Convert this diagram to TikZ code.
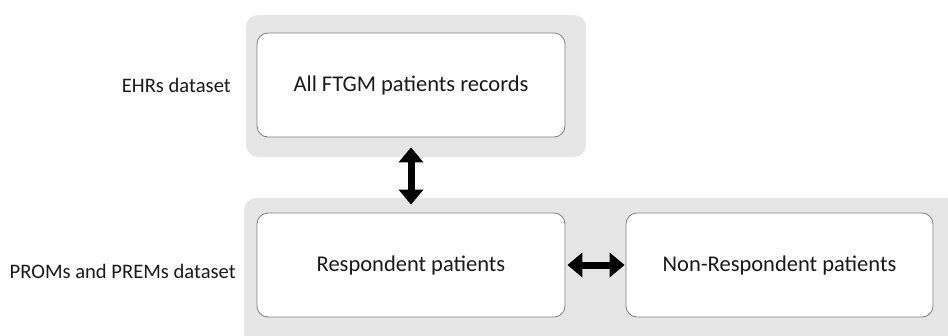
\documentclass[tikz,border=0pt]{standalone}
\usepackage{fontspec}
\setmainfont{Carlito}
\usetikzlibrary{arrows.meta}

\definecolor{panelgrey}{HTML}{E7E6E6}
\definecolor{boxedge}{HTML}{7F7F7F}
\definecolor{inktext}{HTML}{1A1A1A}

\tikzset{
  panel/.style={fill=panelgrey, rounded corners=12pt},
  recbox/.style={draw=boxedge, fill=white, rounded corners=11pt, line width=0.8pt,
    minimum width=308pt, minimum height=104pt, inner sep=0pt,
    text=inktext, font=\fontsize{22.5}{27}\selectfont},
  setlabel/.style={anchor=east, inner sep=0pt, text=inktext, font=\fontsize{20.6}{25}\selectfont},
  fatarrow/.style={line width=7pt,
    {Triangle[width=24pt,length=15pt]}-{Triangle[width=24pt,length=15pt]}}
}

\begin{document}
\begin{tikzpicture}[x=1pt,y=-1pt]
\useasboundingbox (0,0) rectangle (948,335);
\clip (0,0) rectangle (948,335);

% grey dataset panels:
\fill[panel] (246,15) rectangle (586,157);
\fill[panel] (244,198) rectangle (970,360);

% record boxes:
\node[recbox] (ftgm) at (411,85) {All FTGM patients records};
\node[recbox] (resp) at (411,265) {Respondent patients};
\node[recbox, minimum width=307pt] (nonresp) at (779.5,265) {Non-Respondent patients};

% dataset labels:
\node[setlabel] (ehrs) at (231,85) {EHRs dataset};
\node[setlabel] (proms) at (236,271) {PROMs and PREMs dataset};

% links:
\draw[fatarrow] ([yshift=-10pt]ftgm.south) -- ([yshift=8pt]resp.north);
\draw[fatarrow] ([xshift=2pt]resp.east) -- ([xshift=-1pt]nonresp.west);

\end{tikzpicture}
\end{document}
